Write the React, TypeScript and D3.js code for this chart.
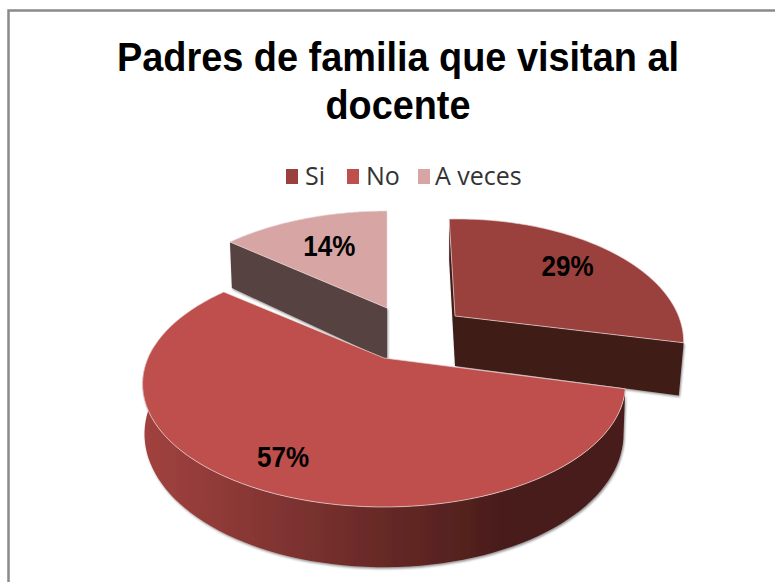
import * as d3 from "d3";
import { useEffect, useRef } from "react";

const categories = ["Si", "No", "A veces"];
const percentages = [29, 57, 14];
const titleLines = ["Padres de familia que visitan al", "docente"];

const WIDTH = 775;
const HEIGHT = 582;

const colors = ["#9A403D", "#BE4F4C", "#D6A5A4"];
const wallColors = ["#3F1A17", "#4A1D1B", "#57433F"];

// perspective of the disc : far side is flattened, near side is stretched
const center = { x: 384, y: 358 };
const radiusX = 236;
const radiusY = 117.5;
const tilt = 0.2114;
const depth = 47.5;

// screen offset of each slice (explosion), and how it is deformed
const sliceLayout = [
	{ dx: 71, dy: -42, scaleX: 0.94, shear: 0.06, shearY: -0.018, lean: -5, depthScale: 1.05, labelR: 0.72 },
	{ dx: 0, dy: 0, scaleX: 1, shear: 0, shearY: 0, lean: -2, depthScale: 1, labelR: 0.8 },
	{ dx: 3, dy: -50, scaleX: 0.98, shear: 0, shearY: 0, lean: -2.5, depthScale: 1.1, labelR: 0.66 },
];

const project = (slice: number, angle: number, r: number, z = 0): [number, number] => {
	const l = sliceLayout[slice];
	const u = Math.sin(angle) * r;
	const v = -Math.cos(angle) * r;
	const d = 1 - tilt * v;
	const y = (radiusY * v) / d;
	const px = ((radiusX * u) / d) * l.scaleX;
	const x = px + l.shear * y + l.lean * z * u;
	return [
		center.x + l.dx + x,
		center.y + l.dy + y + l.shearY * px + (z * depth * l.depthScale) / d,
	];
};

const App = () => {
	const svgRef = useRef<SVGSVGElement>(null);

	useEffect(() => {
		if (!svgRef.current) return;

		const svg = d3.select(svgRef.current);
		svg.selectAll("*").remove();

		const defs = svg.append("defs");

		// Rim of the big slice, dark towards the right
		const rimScale = d3.scaleLinear().domain([143, 500]).range([0, 1]);
		const gradient = defs
			.append("linearGradient")
			.attr("id", "rim")
			.attr("gradientUnits", "userSpaceOnUse")
			.attr("x1", rimScale.invert(0))
			.attr("x2", rimScale.invert(1))
			.attr("y1", 0)
			.attr("y2", 0);
		gradient.append("stop").attr("offset", 0).attr("stop-color", "#A2423F");
		gradient.append("stop").attr("offset", 1).attr("stop-color", "#4A1D1B");

		const shadow = defs
			.append("filter")
			.attr("id", "shadow")
			.attr("x", "-10%")
			.attr("y", "-10%")
			.attr("width", "120%")
			.attr("height", "120%");
		shadow
			.append("feDropShadow")
			.attr("dx", 1)
			.attr("dy", 1.5)
			.attr("stdDeviation", 1.3)
			.attr("flood-color", "#000")
			.attr("flood-opacity", 0.45);

		svg
			.append("rect")
			.attr("width", WIDTH)
			.attr("height", HEIGHT)
			.attr("fill", "#fff");

		// Frame of the chart
		svg
			.append("path")
			.attr("d", `M8.5,${HEIGHT} V10.5 H${WIDTH}`)
			.attr("fill", "none")
			.attr("stroke", "#8A8A8A")
			.attr("stroke-width", 2.5);

		// Title
		svg
			.append("g")
			.selectAll("text")
			.data(titleLines)
			.enter()
			.append("text")
			.attr("x", 398)
			.attr("y", (_, i) => 71 + i * 48)
			.attr("text-anchor", "middle")
			.attr("font-family", "Liberation Sans")
			.attr("font-weight", "bold")
			.attr("font-size", 41)
			.attr("textLength", (_, i) => (i === 0 ? 562 : 145))
			.attr("lengthAdjust", "spacingAndGlyphs")
			.text((d) => d);

		// Legend
		const legendSquares = [286, 347, 418];
		const legendTexts = [305, 366, 435];
		const legend = svg.append("g");
		categories.forEach((c, i) => {
			legend
				.append("rect")
				.attr("x", legendSquares[i])
				.attr("y", 169)
				.attr("width", 12)
				.attr("height", 15)
				.attr("fill", colors[i]);
			legend
				.append("text")
				.attr("x", legendTexts[i])
				.attr("y", 185)
				.attr("font-family", "Open Sans")
				.attr("font-size", 25)
				.attr("fill", "#333")
				.text(c);
		});

		// Angles of the slices
		const arcs = d3
			.pie<number>()
			.sort(null)
			.value((d) => d)(percentages);

		const line = d3.line();
		const arcPoints = (slice: number, a0: number, a1: number, z = 0) =>
			d3
				.range(0, 81)
				.map((k) => project(slice, a0 + ((a1 - a0) * k) / 80, 1, z));

		const drawSlice = (i: number) => {
			const a = arcs[i];
			const g = svg.append("g");
			const apex = project(i, 0, 0);
			const apexLow = project(i, 0, 0, 1);

			if (i === 1) {
				// Visible rim only, going from the right corner round to the left
				const end = (3 * Math.PI) / 2 + 0.1;
				const rimTop = arcPoints(i, a.startAngle, end);
				const rimLow = arcPoints(i, a.startAngle, end, 1).reverse();
				g.append("path")
					.attr("d", line([...rimTop, ...rimLow]) + "Z")
					.attr("fill", "url(#rim)")
					.attr("filter", "url(#shadow)");
			} else {
				// Cut walls of the exploded slices
				[a.startAngle, a.endAngle].forEach((angle) => {
					const wall: [number, number][] = [
						apex,
						project(i, angle, 1),
						project(i, angle, 1, 1),
						apexLow,
					];
					g.append("path")
						.attr("d", line(wall) + "Z")
						.attr("fill", wallColors[i])
						.attr("filter", "url(#shadow)");
				});
			}

			const top = arcPoints(i, a.startAngle, a.endAngle);
			g.append("path")
				.attr("d", line([apex, ...top]) + "Z")
				.attr("fill", colors[i])
				.attr("stroke", "#E9D9D8")
				.attr("stroke-width", 0.7);
		};

		// Back slice first, big slice last
		[2, 0, 1].forEach(drawSlice);

		// Percent labels
		arcs.forEach((a, i) => {
			const mid = (a.startAngle + a.endAngle) / 2;
			const [x, y] = project(i, mid, sliceLayout[i].labelR);
			svg
				.append("text")
				.attr("x", x)
				.attr("y", y + 10)
				.attr("text-anchor", "middle")
				.attr("font-family", "Liberation Sans")
				.attr("font-weight", "bold")
				.attr("font-size", 30)
				.attr("textLength", 52)
				.attr("lengthAdjust", "spacingAndGlyphs")
				.text(`${percentages[i]}%`);
		});
	}, []);

	return (
		<svg
			ref={svgRef}
			width={WIDTH}
			height={HEIGHT}
			style={{ position: "absolute", top: 0, left: 0 }}
		></svg>
	);
};

export default App;
